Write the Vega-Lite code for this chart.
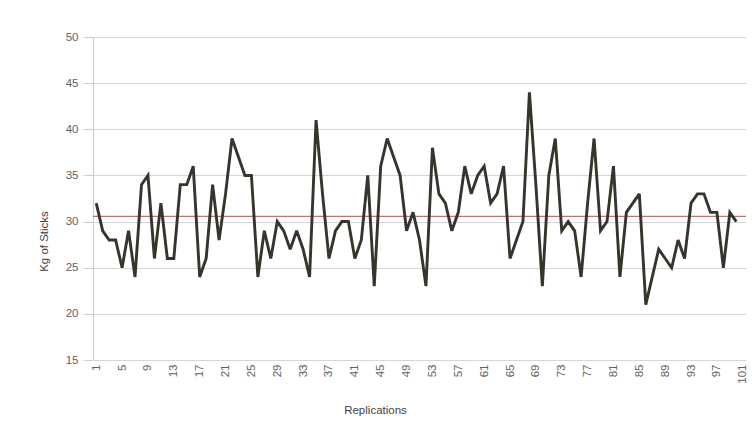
{
  "$schema": "https://vega.github.io/schema/vega-lite/v6.json",
  "width": 653,
  "height": 323,
  "autosize": "none",
  "padding": {"left": 93, "top": 37, "right": 6, "bottom": 84},
  "background": "white",
  "config": {
    "view": {"stroke": null},
    "font": "Liberation Sans",
    "axis": {
      "labelFont": "Liberation Sans",
      "titleFont": "Liberation Sans",
      "labelColor": "#5f5f5f",
      "titleColor": "#3f3f3f",
      "titleFontWeight": "normal",
      "labelFontSize": 11.5,
      "titleFontSize": 11.5
    }
  },
  "data": {
    "values": [
      {"rep": 1, "kg": 32}, {"rep": 2, "kg": 29}, {"rep": 3, "kg": 28}, {"rep": 4, "kg": 28}, {"rep": 5, "kg": 25},
      {"rep": 6, "kg": 29}, {"rep": 7, "kg": 24}, {"rep": 8, "kg": 34}, {"rep": 9, "kg": 35}, {"rep": 10, "kg": 26},
      {"rep": 11, "kg": 32}, {"rep": 12, "kg": 26}, {"rep": 13, "kg": 26}, {"rep": 14, "kg": 34}, {"rep": 15, "kg": 34},
      {"rep": 16, "kg": 36}, {"rep": 17, "kg": 24}, {"rep": 18, "kg": 26}, {"rep": 19, "kg": 34}, {"rep": 20, "kg": 28},
      {"rep": 21, "kg": 33}, {"rep": 22, "kg": 39}, {"rep": 23, "kg": 37}, {"rep": 24, "kg": 35}, {"rep": 25, "kg": 35},
      {"rep": 26, "kg": 24}, {"rep": 27, "kg": 29}, {"rep": 28, "kg": 26}, {"rep": 29, "kg": 30}, {"rep": 30, "kg": 29},
      {"rep": 31, "kg": 27}, {"rep": 32, "kg": 29}, {"rep": 33, "kg": 27}, {"rep": 34, "kg": 24}, {"rep": 35, "kg": 41},
      {"rep": 36, "kg": 33}, {"rep": 37, "kg": 26}, {"rep": 38, "kg": 29}, {"rep": 39, "kg": 30}, {"rep": 40, "kg": 30},
      {"rep": 41, "kg": 26}, {"rep": 42, "kg": 28}, {"rep": 43, "kg": 35}, {"rep": 44, "kg": 23}, {"rep": 45, "kg": 36},
      {"rep": 46, "kg": 39}, {"rep": 47, "kg": 37}, {"rep": 48, "kg": 35}, {"rep": 49, "kg": 29}, {"rep": 50, "kg": 31},
      {"rep": 51, "kg": 28}, {"rep": 52, "kg": 23}, {"rep": 53, "kg": 38}, {"rep": 54, "kg": 33}, {"rep": 55, "kg": 32},
      {"rep": 56, "kg": 29}, {"rep": 57, "kg": 31}, {"rep": 58, "kg": 36}, {"rep": 59, "kg": 33}, {"rep": 60, "kg": 35},
      {"rep": 61, "kg": 36}, {"rep": 62, "kg": 32}, {"rep": 63, "kg": 33}, {"rep": 64, "kg": 36}, {"rep": 65, "kg": 26},
      {"rep": 66, "kg": 28}, {"rep": 67, "kg": 30}, {"rep": 68, "kg": 44}, {"rep": 69, "kg": 34}, {"rep": 70, "kg": 23},
      {"rep": 71, "kg": 35}, {"rep": 72, "kg": 39}, {"rep": 73, "kg": 29}, {"rep": 74, "kg": 30}, {"rep": 75, "kg": 29},
      {"rep": 76, "kg": 24}, {"rep": 77, "kg": 32}, {"rep": 78, "kg": 39}, {"rep": 79, "kg": 29}, {"rep": 80, "kg": 30},
      {"rep": 81, "kg": 36}, {"rep": 82, "kg": 24}, {"rep": 83, "kg": 31}, {"rep": 84, "kg": 32}, {"rep": 85, "kg": 33},
      {"rep": 86, "kg": 21}, {"rep": 87, "kg": 24}, {"rep": 88, "kg": 27}, {"rep": 89, "kg": 26}, {"rep": 90, "kg": 25},
      {"rep": 91, "kg": 28}, {"rep": 92, "kg": 26}, {"rep": 93, "kg": 32}, {"rep": 94, "kg": 33}, {"rep": 95, "kg": 33},
      {"rep": 96, "kg": 31}, {"rep": 97, "kg": 31}, {"rep": 98, "kg": 25}, {"rep": 99, "kg": 31}, {"rep": 100, "kg": 30}
    ]
  },
  "encoding": {
    "x": {
      "field": "rep",
      "type": "quantitative",
      "scale": {"domain": [0.5, 101.5], "nice": false, "zero": false},
      "axis": {
        "title": "Replications",
        "values": [1, 5, 9, 13, 17, 21, 25, 29, 33, 37, 41, 45, 49, 53, 57, 61, 65, 69, 73, 77, 81, 85, 89, 93, 97, 101],
        "labelAngle": -90,
        "grid": false,
        "domain": false,
        "ticks": false,
        "labelPadding": 4,
        "labelFontSize": 11.5,
        "titleX": 282,
        "titleY": 50,
        "titleBaseline": "middle"
      }
    }
  },
  "layer": [
    {
      "mark": {"type": "rule", "color": "#b5504b", "strokeWidth": 1},
      "encoding": {
        "x": null,
        "y": {"aggregate": "mean", "field": "kg", "type": "quantitative"}
      }
    },
    {
      "mark": {"type": "line", "color": "#35352b", "strokeWidth": 2.9, "strokeJoin": "miter", "strokeMiterLimit": 3},
      "encoding": {
        "y": {
          "field": "kg",
          "type": "quantitative",
          "scale": {"domain": [15, 50], "nice": false, "zero": false},
          "axis": {
            "title": "Kg of Sticks",
            "values": [15, 20, 25, 30, 35, 40, 45, 50],
            "grid": true,
            "gridColor": "#d6d6d6",
            "gridWidth": 1.2,
            "domain": true,
            "domainColor": "#cfcfcf",
            "domainWidth": 1.2,
            "ticks": true,
            "tickSize": 10,
            "tickColor": "#cfcfcf",
            "labelPadding": 5,
            "titleX": -49,
            "titleY": 204,
            "titleBaseline": "middle",
            "titleAlign": "center"
          }
        }
      }
    }
  ]
}
